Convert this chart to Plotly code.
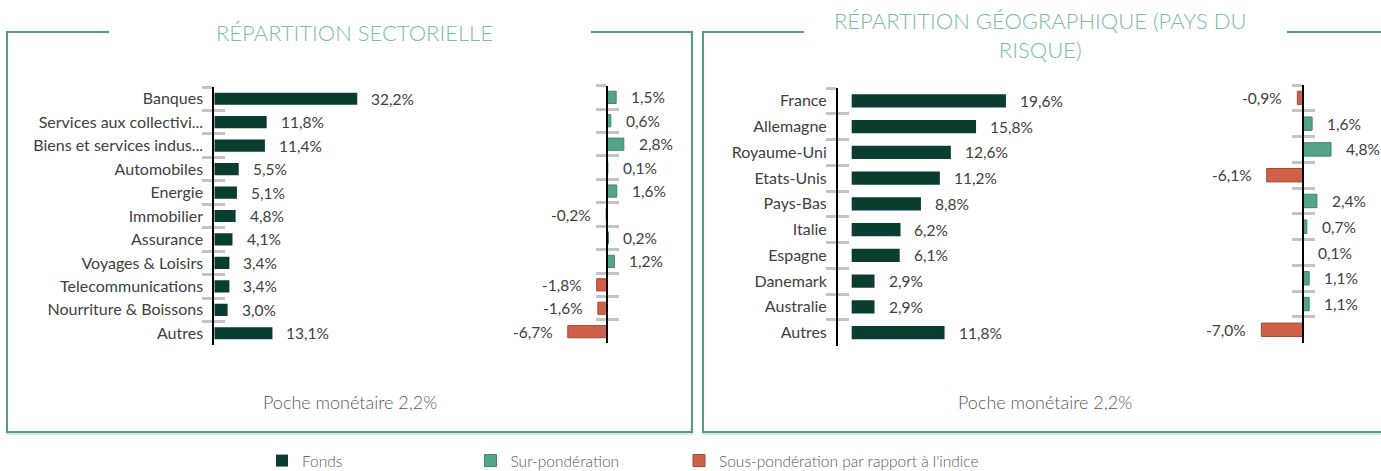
import plotly.graph_objects as go

W, H = 1381, 471

# ---------------- data ----------------
sect_labels = ["Banques", "Services aux collectivi...", "Biens et services indus...", "Automobiles",
               "Energie", "Immobilier", "Assurance", "Voyages & Loisirs", "Telecommunications",
               "Nourriture & Boissons", "Autres"]
sect_fonds = [32.2, 11.8, 11.4, 5.5, 5.1, 4.8, 4.1, 3.4, 3.4, 3.0, 13.1]
sect_ecart = [1.5, 0.6, 2.8, 0.1, 1.6, -0.2, 0.2, 1.2, -1.8, -1.6, -6.7]

geo_labels = ["France", "Allemagne", "Royaume-Uni", "Etats-Unis", "Pays-Bas", "Italie",
              "Espagne", "Danemark", "Australie", "Autres"]
geo_fonds = [19.6, 15.8, 12.6, 11.2, 8.8, 6.2, 6.1, 2.9, 2.9, 11.8]
geo_ecart = [-0.9, 1.6, 4.8, -6.1, 2.4, 0.7, 0.1, 1.1, 1.1, -7.0]

title_sect = "RÉPARTITION SECTORIELLE"
title_geo = "RÉPARTITION GÉOGRAPHIQUE (PAYS DU<br>RISQUE)"
poche_text = "Poche monétaire 2,2%"
legend_names = ["Fonds", "Sur-pondération", "Sous-pondération par rapport à l'indice"]

# ---------------- style ----------------
FONT = "Lato"
C_FONDS = "#0a3d32"
C_SUR = "#56a488"
C_SUR_LINE = "#3e8569"
C_SOUS = "#cf604a"
C_SOUS_LINE = "#a64833"
C_BORDER = "#4f9f84"
C_TITLE = "#7bbda4"
C_TEXT = "#404040"
C_GREY = "#595959"
C_TICK = "#c4c4c4"


def fx(px):
    return px / W


def fy(py):
    return 1 - py / H


def fmt(v):
    return f"{v:.1f}%".replace(".", ",")


def ax(name, i):
    return name if i == 1 else f"{name}{i}"


fig = go.Figure()
layout = {}
annotations = []


def add_panel(i, ov, cats, xdom_px, xrange, ydom_px, ypos_px=None, showlabels=True):
    n = len(cats)
    layout[ax("xaxis", i)] = dict(domain=[fx(xdom_px[0]), fx(xdom_px[1])], range=xrange,
                                  visible=False, anchor=ax("y", i), fixedrange=True)
    common = dict(type="category", categoryorder="array", categoryarray=cats,
                  range=[n - 0.5, -0.5], tickson="boundaries", tickcolor=C_TICK,
                  tickwidth=2.5, showgrid=False, zeroline=False, fixedrange=True)
    y = dict(common, domain=[fy(ydom_px[1]), fy(ydom_px[0])], showline=True, linecolor="black",
             linewidth=2, ticks="outside", ticklen=10, showticklabels=showlabels,
             ticklabelstandoff=6,
             tickfont=dict(family=FONT, size=16, color=C_TEXT))
    y2 = dict(common, overlaying=ax("y", i), ticks="inside", ticklen=11, showticklabels=False,
              showline=False)
    if ypos_px is None:
        y["anchor"] = ax("x", i)
        y2["anchor"] = ax("x", i)
    else:
        y["anchor"] = "free"
        y["position"] = fx(ypos_px)
        y2["anchor"] = "free"
        y2["position"] = fx(ypos_px)
    layout[ax("yaxis", i)] = y
    layout[ax("yaxis", ov)] = y2
    # invisible trace to give the overlay axis its categories
    fig.add_trace(go.Scatter(x=[0] * n, y=cats, xaxis=ax("x", i), yaxis=ax("y", ov), mode="markers",
                             marker=dict(opacity=0), showlegend=False, hoverinfo="skip"))


def add_labels(i, cats, vals, shift):
    for c, v in zip(cats, vals):
        annotations.append(dict(x=v, y=c, xref=ax("x", i), yref=ax("y", i), text=fmt(v),
                                showarrow=False, xanchor="left" if v >= 0 else "right",
                                xshift=shift if v >= 0 else -shift,
                                font=dict(family=FONT, size=15.5, color=C_TEXT)))


def add_fonds(i, cats, vals, show):
    fig.add_trace(go.Bar(x=vals, y=cats, orientation="h", xaxis=ax("x", i), yaxis=ax("y", i),
                         marker=dict(color=C_FONDS, line=dict(width=0)), name=legend_names[0],
                         legend="legend", showlegend=show, hoverinfo="skip"))
    add_labels(i, cats, vals, 12)


def add_ecart(i, cats, vals, show):
    pos = [v if v >= 0 else None for v in vals]
    neg = [v if v < 0 else None for v in vals]
    fig.add_trace(go.Bar(x=pos, y=cats, orientation="h", xaxis=ax("x", i), yaxis=ax("y", i),
                         marker=dict(color=C_SUR, line=dict(width=1, color=C_SUR_LINE)),
                         name=legend_names[1], legend="legend2", showlegend=show, hoverinfo="skip"))
    fig.add_trace(go.Bar(x=neg, y=cats, orientation="h", xaxis=ax("x", i), yaxis=ax("y", i),
                         marker=dict(color=C_SOUS, line=dict(width=1, color=C_SOUS_LINE)),
                         name=legend_names[2], legend="legend3", showlegend=show, hoverinfo="skip"))
    add_labels(i, cats, vals, 13)


# panels
add_panel(1, 5, sect_labels, (214.3, 214.3 + 45 * 4.44), [0, 45], (87, 345))
add_panel(2, 6, sect_labels, (607.3 - 9 * 5.9, 607.3 + 6 * 5.9), [-9, 6], (85.6, 343.4),
          ypos_px=607.3, showlabels=False)
add_panel(3, 7, geo_labels, (838, 838 + 29.74 * 7.87), [-1.74, 28], (88, 345.5))
add_panel(4, 8, geo_labels, (1302.7 - 9 * 5.9, 1302.7 + 6 * 5.9), [-9, 6], (85, 342.7),
          ypos_px=1302.7, showlabels=False)

add_fonds(1, sect_labels, sect_fonds, True)
add_ecart(2, sect_labels, sect_ecart, True)
add_fonds(3, geo_labels, geo_fonds, False)
add_ecart(4, geo_labels, geo_ecart, False)

# titles and notes
annotations.append(dict(x=fx(354), y=fy(33), xref="paper", yref="paper", text=title_sect,
                        showarrow=False, xanchor="center", yanchor="middle",
                        font=dict(family=FONT, size=22, color=C_TITLE, weight=300)))
annotations.append(dict(x=fx(1040), y=fy(35.5), xref="paper", yref="paper", text=title_geo,
                        showarrow=False, xanchor="center", yanchor="middle",
                        font=dict(family=FONT, size=22, color=C_TITLE, weight=300)))
for cx in (349.5, 1045):
    annotations.append(dict(x=fx(cx), y=fy(402), xref="paper", yref="paper", text=poche_text,
                            showarrow=False, xanchor="center", yanchor="middle",
                            font=dict(family=FONT, size=18, color=C_GREY, weight=300)))

# frames
shapes = []


def line(x0, y0, x1, y1, color=C_BORDER, width=2):
    shapes.append(dict(type="line", xref="paper", yref="paper", x0=fx(x0), y0=fy(y0),
                       x1=fx(x1), y1=fy(y1), line=dict(color=color, width=width)))


# left frame
line(7, 32, 109, 32)
line(591, 32, 692, 32)
line(7, 31, 7, 432)
line(692, 31, 692, 432)
line(6, 432, 693, 432)
line(6, 434, 693, 434, color="#a9d6c5", width=1)
# right frame
line(703, 32, 804, 32)
line(1287, 32, 1385, 32)
line(703, 31, 703, 432)
line(702, 432, 1385, 432)
line(702, 434, 1385, 434, color="#a9d6c5", width=1)

leg_common = dict(orientation="h", y=fy(461), xanchor="left", yanchor="middle",
                  font=dict(family=FONT, size=15.5, color=C_GREY, weight=300),
                  bgcolor="rgba(0,0,0,0)")

layout.update(
    width=W, height=H, margin=dict(l=0, r=0, t=0, b=0, autoexpand=False),
    paper_bgcolor="white", plot_bgcolor="rgba(0,0,0,0)",
    barmode="relative", bargap=0.48,
    font=dict(family=FONT, color=C_TEXT),
    annotations=annotations, shapes=shapes,
    showlegend=True,
    legend=dict(leg_common, x=fx(262)),
    legend2=dict(leg_common, x=fx(470.5)),
    legend3=dict(leg_common, x=fx(679)),
)
fig.update_layout(**layout)
fig.write_html("out.html", config={"displayModeBar": False})
